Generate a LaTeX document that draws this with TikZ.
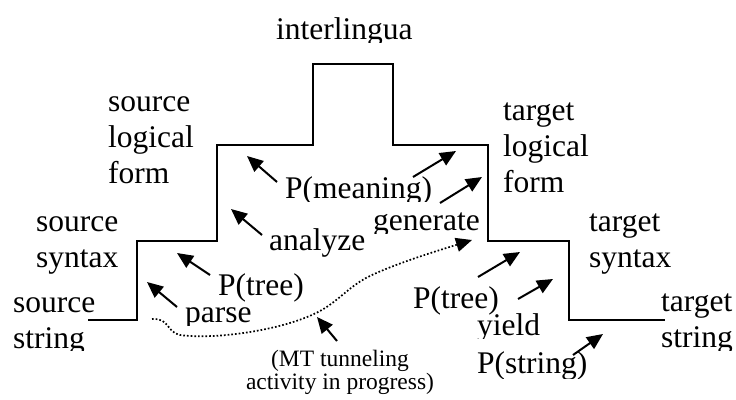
\documentclass[tikz,border=0pt]{standalone}
\usepackage{fontspec}
\setmainfont{Liberation Serif}
\usetikzlibrary{arrows.meta}
\begin{document}
\begin{tikzpicture}[x=1pt,y=-1pt,
  stair/.style={line width=2pt, line join=miter},
  lbl/.style={anchor=base west, inner sep=0pt, align=left,
              font=\fontsize{31.5}{36}\selectfont},
  note/.style={anchor=base, inner sep=0pt, align=center,
               font=\fontsize{23.5}{18.5}\selectfont},
  arr/.style={line width=2pt, -{Triangle[length=16pt,width=14pt]}},
  tunnel/.style={line width=1.7pt, dash pattern=on 1.7pt off 2pt,
                 -{Triangle[length=16pt,width=14pt]}}
]
\useasboundingbox (0,0) rectangle (736,399);

% the translation pyramid
\draw[stair] (88,320) -- (137,320) -- (137,241) -- (217,241) -- (217,145)
  -- (313,145) -- (313,64) -- (393,64) -- (393,145) -- (488,145)
  -- (488,241) -- (569,241) -- (569,320) -- (665,320);

% level names (multi-line nodes sit on the baseline of their last line)
\begin{scope}\clip (0,0) rectangle (736,42);
  \node[lbl] (inter) at (276,39) {interlingua};
\end{scope}
\node[lbl] (slf) at (108,183) {source\\logical\\form};
\node[lbl] (ssyn) at (36,267) {source\\syntax};
\begin{scope}\clip (0,0) rectangle (736,350);
  \node[lbl] (sstr) at (13,348) {source\\string};
  \node[lbl] (tstr) at (661,347) {target\\string};
\end{scope}
\node[lbl] (tlf) at (503,192) {target\\logical\\form};
\node[lbl] (tsyn) at (589,267) {target\\syntax};

% step labels
\begin{scope}\clip (0,0) rectangle (736,201);
  \node[lbl] (pmean) at (285,198) {P(meaning)};
\end{scope}
\begin{scope}\clip (0,0) rectangle (736,233);
  \node[lbl] (gen) at (373,230) {generate};
\end{scope}
\node[lbl] (ana) at (269,250) {analyze};
\node[lbl] (ptreeL) at (218,295) {P(tree)};
\begin{scope}\clip (0,0) rectangle (736,325);
  \node[lbl] (parse) at (185,322) {parse};
\end{scope}
\node[lbl] (ptreeR) at (413,308) {P(tree)};
\begin{scope}\clip (0,0) rectangle (736,338);
  \node[lbl] (yield) at (477,335) {yield};
\end{scope}
\begin{scope}\clip (0,0) rectangle (736,378);
  \node[lbl] (pstr) at (477,373) {P(string)};
\end{scope}
\node[note] (mt) at (340,389) {(MT tunneling\\activity in progress)};

% upward arrows on the source side
\draw[arr] (177,307) coordinate (a1t) -- (147,282) coordinate (a1h);
\draw[arr] (210,275) coordinate (a2t) -- (177,253) coordinate (a2h);
\draw[arr] (262,235) coordinate (a3t) -- (231,209) coordinate (a3h);
\draw[arr] (277,182) coordinate (a4t) -- (247,156) coordinate (a4h);

% downward arrows on the target side
\draw[arr] (413,177) coordinate (b1t) -- (456,151) coordinate (b1h);
\draw[arr] (440,203) coordinate (b2t) -- (482,177) coordinate (b2h);
\draw[arr] (478,277) coordinate (b3t) -- (520,252) coordinate (b3h);
\draw[arr] (518,299) coordinate (b4t) -- (553,279) coordinate (b4h);
\draw[arr] (573,355) coordinate (b5t) -- (603,334) coordinate (b5h);

% the tunnel
\coordinate (tunA) at (152,319);
\coordinate (tunB) at (472,240);
\draw[tunnel] (tunA) .. controls (170,318) and (166,332) .. (180,335)
  .. controls (215,340) and (285,330) .. (320,311)
  .. controls (340,300) and (350,285) .. (372,275)
  .. controls (400,262) and (440,250) .. (tunB);
\draw[arr] (337,341) coordinate (mtt) -- (317,317) coordinate (mth);
\end{tikzpicture}
\end{document}
